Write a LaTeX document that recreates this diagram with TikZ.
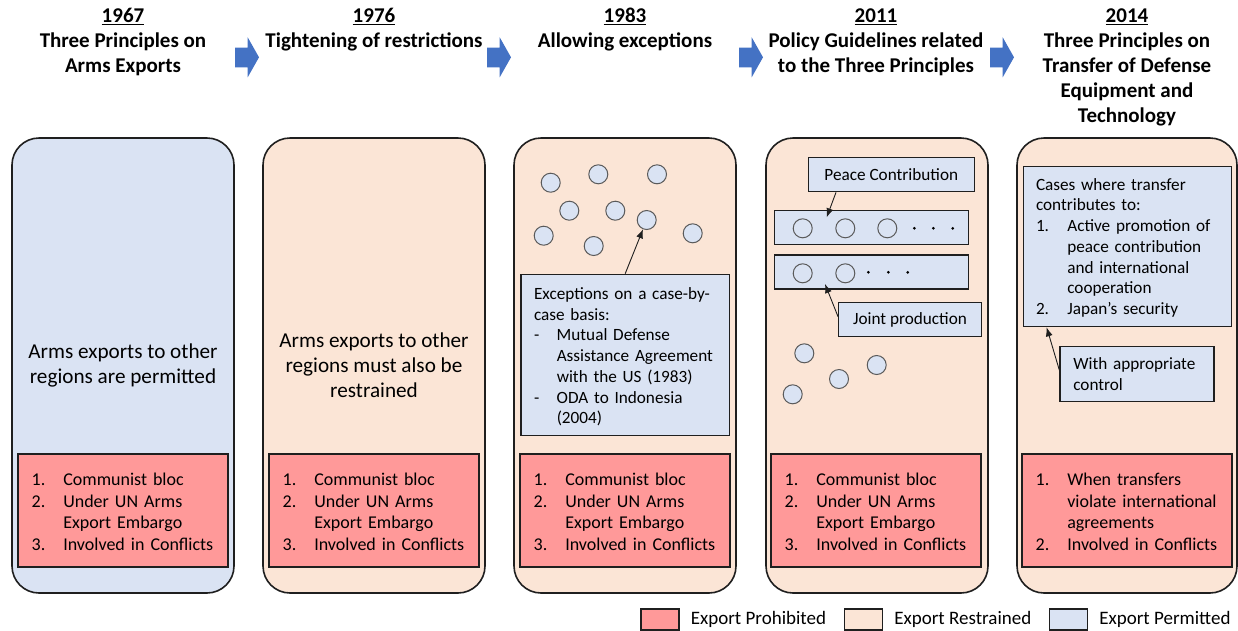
\documentclass[tikz,border=0pt]{standalone}
\usepackage{fontspec}
\setmainfont{Carlito}
\usetikzlibrary{positioning,calc,arrows.meta}

\definecolor{permit}{HTML}{DAE3F3}
\definecolor{restrain}{HTML}{FBE5D6}
\definecolor{prohibit}{HTML}{FF9999}
\definecolor{flow}{HTML}{4472C4}
\definecolor{edge}{HTML}{1F1F1F}
\definecolor{ring}{HTML}{5A5A5A}

% numbered or dashed list, first column is the marker
\newcommand{\marklist}[3][0pt]{\raisebox{-#1}[\height][\depth]{\begin{tabular}{@{}p{#2}@{}l@{}}#3\end{tabular}}}
\newcommand{\lead}[1]{\multicolumn{2}{@{}l@{}}{#1}}

\tikzset{
  panel/.style={draw=edge, line width=1.6pt, rounded corners=27pt},
  head/.style={font=\fontsize{21}{25}\selectfont\bfseries, align=center, inner sep=0pt},
  note/.style={font=\fontsize{21.2}{25}\selectfont, align=center, inner sep=0pt},
  box/.style={draw=edge, line width=1.3pt, inner ysep=0pt, align=left},
  bluebox/.style={box, fill=permit, font=\fontsize{17.2}{20.7}\selectfont},
  redbox/.style={box, fill=prohibit, minimum width=210pt, minimum height=113pt,
    text width=182.6pt, inner xsep=13.7pt, font=\fontsize{18}{21.7}\selectfont},
  dot/.style={circle, draw=ring, line width=1pt, fill=permit, minimum size=19pt, inner sep=0pt},
  tick/.style={circle, fill=black, minimum size=3pt, inner sep=0pt},
  conn/.style={-{Latex[length=9pt,width=7pt]}, draw=edge, line width=0.9pt},
  key/.style={draw=edge, line width=1.3pt, minimum width=38pt, minimum height=21pt, inner sep=0pt},
  keytext/.style={font=\fontsize{19}{22}\selectfont, inner sep=0pt}
}

\begin{document}
\begin{tikzpicture}[x=1pt, y=-1pt]
\useasboundingbox (0,0) rectangle (1238,630);

% period panels
\draw[panel, fill=permit] (12,138) rectangle (234,593);
\draw[panel, fill=restrain] (263,138) rectangle (485,593);
\draw[panel, fill=restrain] (514,138) rectangle (736,593);
\draw[panel, fill=restrain] (766,138) rectangle (988,593);
\draw[panel, fill=restrain] (1017,138) rectangle (1237,593);

% headings
\node[head, anchor=base] (y67) at (123,22.6) {\underline{1967}};
\node[head, anchor=north] (h67) at (123,33) {Three Principles on\\Arms Exports};
\node[head, anchor=base] (y76) at (374,22.6) {\underline{1976}};
\node[head, anchor=north] (h76) at (374,33) {Tightening of restrictions};
\node[head, anchor=base] (y83) at (625,22.6) {\underline{1983}};
\node[head, anchor=north] (h83) at (625,33) {Allowing exceptions};
\node[head, anchor=base] (y11) at (876,22.6) {\underline{2011}};
\node[head, anchor=north] (h11) at (876,33) {Policy Guidelines related\\to the Three Principles};
\node[head, anchor=base] (y14) at (1127,22.6) {\underline{2014}};
\node[head, anchor=north] (h14) at (1127,33) {Three Principles on\\Transfer of Defense\\Equipment and\\Technology};

% block arrows between headings
\fill[flow] (235,47.7) -- (247.7,47.7) -- (247.7,37.3) -- (259,57.3) -- (247.7,77.3) -- (247.7,67.3) -- (235,67.3) -- cycle;
\fill[flow] (487,47.7) -- (499.7,47.7) -- (499.7,37.3) -- (511,57.3) -- (499.7,77.3) -- (499.7,67.3) -- (487,67.3) -- cycle;
\fill[flow] (739,47.7) -- (751.7,47.7) -- (751.7,37.3) -- (763,57.3) -- (751.7,77.3) -- (751.7,67.3) -- (739,67.3) -- cycle;
\fill[flow] (990,47.7) -- (1002.7,47.7) -- (1002.7,37.3) -- (1014,57.3) -- (1002.7,77.3) -- (1002.7,67.3) -- (990,67.3) -- cycle;

% 1967 and 1976
\node[note] (t67) at (123,365.5) {Arms exports to other\\regions are permitted};
\node[note] (t76) at (374,365) {Arms exports to other\\regions must also be\\restrained};

% 1983: scattered exceptions
\node[dot] (c1) at (550.7,182.7) {};
\node[dot] (c2) at (598.3,174.3) {};
\node[dot] (c3) at (657,174.3) {};
\node[dot] (c4) at (569.3,210.7) {};
\node[dot] (c5) at (615.3,210.7) {};
\node[dot] (c6) at (646.7,220) {};
\node[dot] (c7) at (543.7,235.7) {};
\node[dot] (c8) at (593.7,246) {};
\node[dot] (c9) at (692.7,233.3) {};
\node[bluebox, minimum width=208.3pt, minimum height=161.4pt, text width=182.3pt, inner xsep=13pt]
  (exc) at (625.2,355) {\marklist[2.5pt]{22.7pt}{\lead{Exceptions on a case-by-}\\ \lead{case basis:}\\
  - & Mutual Defense\\ & Assistance Agreement\\ & with the US (1983)\\ - & ODA to Indonesia\\ & (2004)}};
\draw[conn] (exc.north) -- (c6);

% 2011: grouped exceptions
\node[bluebox, minimum width=166pt, minimum height=34.4pt, align=center] (pc) at (891.3,174.5) {Peace Contribution};
\node[box, fill=permit, minimum width=193.6pt, minimum height=33.6pt] (row1) at (871.5,227.5) {};
\node[box, fill=permit, minimum width=193.6pt, minimum height=34pt] (row2) at (871.5,272) {};
\node[dot] (r11) at (802.7,228.3) {};
\node[dot] (r12) at (845.3,228.3) {};
\node[dot] (r13) at (887.3,228.3) {};
\node[tick] at (914.3,228.3) {}; \node[tick] at (933.3,228.3) {}; \node[tick] at (952.7,228.3) {};
\node[dot] (r21) at (802.7,273.3) {};
\node[dot] (r22) at (845.3,273.3) {};
\node[tick] at (868.3,272.3) {}; \node[tick] at (888.3,272.3) {}; \node[tick] at (907.7,272.3) {};
\node[bluebox, minimum width=142.6pt, minimum height=34pt, align=center] (jp) at (910,319.7) {Joint production};
\coordinate (pctip) at (826.7,217.3);
\coordinate (jptip) at (825,284);
\draw[conn] ([xshift=-55.3pt]pc.south) -- (pctip);
\draw[conn] ([yshift=3pt]jp.west) -- (jptip);
\node[dot] (b1) at (804.3,353.3) {};
\node[dot] (b2) at (876.7,365) {};
\node[dot] (b3) at (839,379) {};
\node[dot] (b4) at (792.7,394.3) {};

% 2014: conditions for transfer
\node[bluebox, minimum width=208.4pt, minimum height=160pt, text width=183pt, inner xsep=12.7pt]
  (cases) at (1127.5,246.7) {\marklist[1.5pt]{31.3pt}{\lead{Cases where transfer}\\ \lead{contributes to:}\\
  1. & Active promotion of\\ & peace contribution\\ & and international\\ & cooperation\\ 2. & Japan’s security}};
\node[bluebox, minimum width=154pt, minimum height=55pt, text width=127.4pt, inner xsep=13.3pt]
  (ctrl) at (1137,374.2) {With appropriate\\control};
\draw[conn] ([yshift=4pt]ctrl.west) -- ([xshift=24pt]cases.south west);

% prohibited destinations
\node[redbox] (ban67) at (123,510.5) {\marklist[3pt]{31.6pt}{1. & Communist bloc\\ 2. & Under UN Arms\\ & Export Embargo\\ 3. & Involved in Conflicts}};
\node[redbox] (ban76) at (374,510.5) {\marklist[3pt]{31.6pt}{1. & Communist bloc\\ 2. & Under UN Arms\\ & Export Embargo\\ 3. & Involved in Conflicts}};
\node[redbox] (ban83) at (625,510.5) {\marklist[3pt]{31.6pt}{1. & Communist bloc\\ 2. & Under UN Arms\\ & Export Embargo\\ 3. & Involved in Conflicts}};
\node[redbox] (ban11) at (876,510.5) {\marklist[3pt]{31.6pt}{1. & Communist bloc\\ 2. & Under UN Arms\\ & Export Embargo\\ 3. & Involved in Conflicts}};
\node[redbox] (ban14) at (1127,510.5) {\marklist[3pt]{31.6pt}{1. & When transfers\\ & violate international\\ & agreements\\ 2. & Involved in Conflicts}};

% legend
\node[key, fill=prohibit] (k1) at (660,619.5) {};
\node[keytext, right=11pt of k1] (k1t) {Export Prohibited};
\node[key, fill=restrain] (k2) at (863.5,619.5) {};
\node[keytext, right=11pt of k2] (k2t) {Export Restrained};
\node[key, fill=permit] (k3) at (1068.5,619.5) {};
\node[keytext, right=11pt of k3] (k3t) {Export Permitted};

\end{tikzpicture}
\end{document}
